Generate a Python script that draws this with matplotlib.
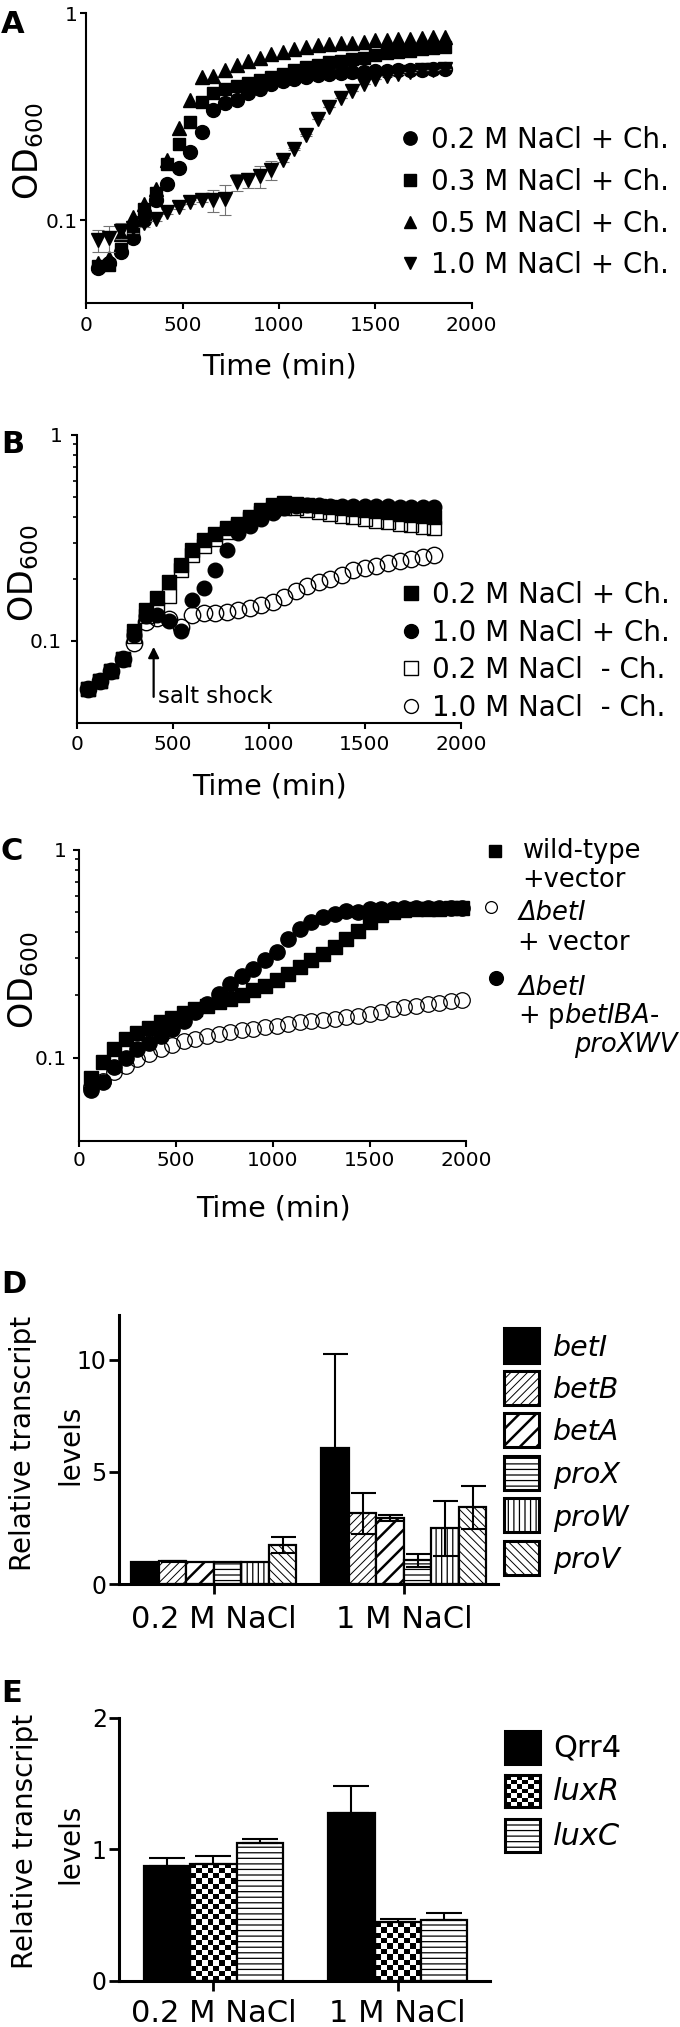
import numpy as np
import matplotlib
matplotlib.use('Agg')
import matplotlib.pyplot as plt
from matplotlib.patches import Rectangle
from matplotlib.lines import Line2D
from matplotlib.ticker import FixedLocator, NullLocator, NullFormatter
from matplotlib.transforms import blended_transform_factory

# ---------------- data ----------------
TIME_AB = [60, 120, 180, 240, 300, 360, 420, 480, 540, 600, 660, 720, 780, 840, 900, 960,
           1020, 1080, 1140, 1200, 1260, 1320, 1380, 1440, 1500, 1560, 1620, 1680, 1740, 1800, 1860]
TIME_C = [60, 120, 180, 240, 300, 360, 420, 480, 540, 600, 660, 720, 780, 840, 900, 960,
          1020, 1080, 1140, 1200, 1260, 1320, 1380, 1440, 1500, 1560, 1620, 1680, 1740, 1800,
          1860, 1920, 1980]

# Panel A
A_LABELS = ['0.2 M NaCl + Ch.', '0.3 M NaCl + Ch.', '0.5 M NaCl + Ch.', '1.0 M NaCl + Ch.']
A_02 = [0.059, 0.062, 0.070, 0.082, 0.100, 0.125, 0.149, 0.178, 0.214, 0.267, 0.340, 0.370,
        0.380, 0.410, 0.430, 0.455, 0.471, 0.482, 0.492, 0.503, 0.508, 0.514, 0.518, 0.522,
        0.526, 0.528, 0.530, 0.532, 0.535, 0.537, 0.540]
A_03 = [0.060, 0.061, 0.073, 0.090, 0.114, 0.135, 0.188, 0.235, 0.300, 0.374, 0.410, 0.430,
        0.445, 0.460, 0.475, 0.490, 0.510, 0.530, 0.550, 0.565, 0.580, 0.590, 0.600, 0.610,
        0.630, 0.640, 0.650, 0.660, 0.670, 0.680, 0.690]
A_05 = [0.062, 0.066, 0.086, 0.104, 0.120, 0.142, 0.195, 0.278, 0.381, 0.494, 0.500, 0.530,
        0.560, 0.590, 0.610, 0.635, 0.650, 0.670, 0.685, 0.700, 0.710, 0.715, 0.720, 0.730,
        0.740, 0.745, 0.750, 0.755, 0.760, 0.765, 0.770]
A_10 = [0.080, 0.082, 0.089, 0.092, 0.097, 0.102, 0.110, 0.116, 0.123, 0.125, 0.125, 0.127,
        0.153, 0.156, 0.163, 0.175, 0.195, 0.221, 0.258, 0.310, 0.353, 0.390, 0.420, 0.458,
        0.480, 0.500, 0.510, 0.520, 0.530, 0.535, 0.540]
A_10_ERR = [0.010, 0.012, 0.008, 0.005, 0.004, 0.003, 0.003, 0.003, 0.003, 0.003, 0.015, 0.021,
            0.015, 0.013, 0.020, 0.018, 0.004, 0.003, 0.003, 0.0, 0.0, 0.0, 0.0, 0.0,
            0.0, 0.0, 0.0, 0.0, 0.0, 0.0, 0.0]

# Panel B
B_LABELS = ['0.2 M NaCl + Ch.', '1.0 M NaCl + Ch.', '0.2 M NaCl  - Ch.', '1.0 M NaCl  - Ch.']
B_02P = [0.058, 0.0635, 0.071, 0.082, 0.111, 0.141, 0.161, 0.194, 0.234, 0.277, 0.309, 0.330,
         0.352, 0.370, 0.400, 0.432, 0.455, 0.465, 0.462, 0.458, 0.452, 0.447, 0.442, 0.437,
         0.432, 0.427, 0.421, 0.415, 0.409, 0.403, 0.398]
B_10P = [0.058, 0.0635, 0.071, 0.082, 0.107, 0.132, 0.133, 0.125, 0.112, 0.158, 0.180, 0.220,
         0.277, 0.333, 0.360, 0.390, 0.420, 0.440, 0.452, 0.455, 0.455, 0.454, 0.453, 0.452,
         0.451, 0.450, 0.450, 0.449, 0.449, 0.448, 0.448]
B_02M = [0.058, 0.0635, 0.071, 0.082, 0.106, 0.132, 0.142, 0.166, 0.220, 0.262, 0.290, 0.312,
         0.338, 0.360, 0.390, 0.418, 0.438, 0.443, 0.440, 0.432, 0.424, 0.415, 0.406, 0.398,
         0.390, 0.383, 0.376, 0.370, 0.364, 0.358, 0.353]
B_10M = [0.058, 0.0635, 0.071, 0.082, 0.098, 0.124, 0.129, 0.127, 0.117, 0.134, 0.136, 0.136,
         0.138, 0.141, 0.145, 0.149, 0.155, 0.164, 0.175, 0.184, 0.194, 0.200, 0.209, 0.220,
         0.226, 0.232, 0.238, 0.244, 0.250, 0.255, 0.260]

# Panel C
C_WT = [0.080, 0.095, 0.110, 0.123, 0.131, 0.139, 0.148, 0.155, 0.163, 0.171, 0.178, 0.185,
        0.192, 0.201, 0.212, 0.222, 0.235, 0.253, 0.272, 0.294, 0.316, 0.340, 0.370, 0.407,
        0.450, 0.485, 0.500, 0.510, 0.515, 0.518, 0.520, 0.522, 0.525]
C_COMP = [0.070, 0.076, 0.090, 0.100, 0.110, 0.118, 0.127, 0.138, 0.150, 0.165, 0.181, 0.202,
          0.226, 0.248, 0.267, 0.294, 0.322, 0.370, 0.413, 0.450, 0.472, 0.490, 0.508, 0.503,
          0.515, 0.518, 0.520, 0.522, 0.523, 0.524, 0.525, 0.525, 0.526]
C_DEL = [0.072, 0.077, 0.085, 0.091, 0.098, 0.104, 0.110, 0.115, 0.120, 0.123, 0.127, 0.130,
         0.133, 0.136, 0.137, 0.140, 0.142, 0.145, 0.148, 0.150, 0.152, 0.153, 0.156, 0.159,
         0.162, 0.166, 0.171, 0.175, 0.178, 0.181, 0.184, 0.187, 0.190]

# Panel D
D_GROUPS = ['0.2 M NaCl', '1 M NaCl']
D_GENES = ['betI', 'betB', 'betA', 'proX', 'proW', 'proV']
D_02 = [1.00, 1.02, 0.97, 0.98, 0.98, 1.75]
D_02_ERR = [0.0, 0.02, 0.0, 0.0, 0.0, 0.36]
D_10 = [6.08, 3.15, 2.95, 1.05, 2.48, 3.42]
D_10_ERR = [4.2, 0.93, 0.15, 0.28, 1.22, 0.97]

# Panel E
E_GROUPS = ['0.2 M NaCl', '1 M NaCl']
E_GENES = ['Qrr4', 'luxR', 'luxC']
E_02 = [0.87, 0.89, 1.05]
E_02_ERR = [0.065, 0.06, 0.03]
E_10 = [1.275, 0.445, 0.465]
E_10_ERR = [0.205, 0.023, 0.055]

LOG_YTICKS = [0.1, 1]
LOG_YTICKLABELS = ['0.1', '1']
LOG_MINOR = [0.2, 0.3, 0.4, 0.5, 0.6, 0.7, 0.8, 0.9]
TIME_TICKS = [0, 500, 1000, 1500, 2000]

# ---------------- figure ----------------
W, H = 680, 2027
plt.rcParams.update({
    'font.family': ['DejaVu Sans'],
    'mathtext.fontset': 'dejavusans',
    'mathtext.default': 'regular',
    'hatch.linewidth': 0.8,
})
fig = plt.figure(figsize=(W / 100, H / 100), dpi=100)


def rect(l, t, r, b):
    return [l / W, 1 - b / H, (r - l) / W, (b - t) / H]


def fx(x):
    return x / W


def fy(y):
    return 1 - y / H


def ftext(x, y, s, **kw):
    return fig.text(fx(x), fy(y), s, **kw)


def fmarker(x, y, **kw):
    fig.add_artist(Line2D([fx(x)], [fy(y)], transform=fig.transFigure, linestyle='none', **kw))


def log_axes(l, t, r, b, minor, ypad, xpad):
    ax = fig.add_axes(rect(l, t, r, b))
    ax.set_yscale('log')
    ax.set_xlim(0, 2000)
    ax.set_ylim(0.04, 1)
    ax.patch.set_visible(False)
    for s in ('top', 'right'):
        ax.spines[s].set_visible(False)
    for s in ('left', 'bottom'):
        ax.spines[s].set_linewidth(1.5)
    ax.yaxis.set_major_locator(FixedLocator(LOG_YTICKS))
    ax.set_yticklabels(LOG_YTICKLABELS)
    if minor:
        ax.yaxis.set_minor_locator(FixedLocator(LOG_MINOR))
    else:
        ax.yaxis.set_minor_locator(NullLocator())
    ax.yaxis.set_minor_formatter(NullFormatter())
    ax.set_xticks(TIME_TICKS)
    ax.xaxis.set_minor_locator(NullLocator())
    ax.tick_params(which='major', direction='out', length=4, width=1.5, labelsize=14.5)
    ax.tick_params(which='minor', direction='out', length=3, width=1.2)
    ax.tick_params(axis='y', pad=ypad)
    ax.tick_params(axis='x', pad=xpad)
    return ax


# ---------------- Panel A ----------------
axA = log_axes(86.3, 13.3, 471.7, 302.7, False, 2.5, 5.5)
axA.plot(TIME_AB, A_02, 'o', color='k', ms=10, clip_on=False, zorder=3)
axA.plot(TIME_AB, A_03, 's', color='k', ms=9, clip_on=False, zorder=3)
axA.plot(TIME_AB, A_05, '^', color='k', ms=10, clip_on=False, zorder=3)
axA.errorbar(TIME_AB, A_10, yerr=A_10_ERR, fmt='v', color='k', ms=9.5, ecolor='0.45',
             elinewidth=0.8, capsize=4, capthick=0.8, clip_on=False, zorder=3)
a_markers = ['o', 's', '^', 'v']
a_ms = [9.6, 8.4, 8.6, 8.6]
a_rows = [138.3, 180.0, 221.7, 263.3]
for m, s, yrow, lab in zip(a_markers, a_ms, a_rows, A_LABELS):
    fmarker(410, yrow, marker=m, color='k', ms=s)
    ftext(430.7, yrow + 10, lab, fontsize=20, va='baseline', ha='left')
ftext(1, 33, 'A', fontsize=22, fontweight='bold', va='baseline', ha='left')
ftext(11, 151, r'OD$_{600}$', fontsize=24, rotation=90, ha='left', va='center')
ftext(279, 375, 'Time (min)', fontsize=20.5, ha='center', va='baseline')

# ---------------- Panel B ----------------
axB = log_axes(76.8, 435, 461, 722.7, True, 6.5, 4.8)
axB.plot(TIME_AB, B_02M, 's', mfc='none', mec='k', mew=1.0, ms=10, clip_on=False, zorder=2)
axB.plot(TIME_AB, B_02P, 's', color='k', ms=10, clip_on=False, zorder=3)
axB.plot(TIME_AB, B_10M, 'o', mfc='none', mec='k', mew=1.0, ms=11.8, clip_on=False, zorder=3)
axB.plot(TIME_AB, B_10P, 'o', color='k', ms=10.5, clip_on=False, zorder=4)
axB.annotate('', xy=(400, 0.0935), xytext=(400, 0.0534),
             arrowprops=dict(arrowstyle='-|>', lw=1.6, color='k', mutation_scale=16,
                             shrinkA=0, shrinkB=0))
axB.text(424, 0.0497, 'salt shock', fontsize=16.5, va='baseline', ha='left')
b_styles = [dict(marker='s', color='k', ms=9.5),
            dict(marker='o', color='k', ms=10),
            dict(marker='s', mfc='none', mec='k', mew=1.0, ms=9.5),
            dict(marker='o', mfc='none', mec='k', mew=1.0, ms=10)]
b_rows = [593.3, 630.7, 668.3, 706.0]
for st, yrow, lab in zip(b_styles, b_rows, B_LABELS):
    fmarker(411, yrow, **st)
    ftext(431.5, yrow + 10, lab, fontsize=20, va='baseline', ha='left')
ftext(1, 453, 'B', fontsize=22, fontweight='bold', va='baseline', ha='left')
ftext(6.5, 573, r'OD$_{600}$', fontsize=24, rotation=90, ha='left', va='center')
ftext(269, 794, 'Time (min)', fontsize=20.5, ha='center', va='baseline')

# ---------------- Panel C ----------------
axC = log_axes(79.4, 849.5, 466.2, 1140.5, True, 5.0, 3.6)
axC.plot(TIME_C, C_DEL, 'o', mfc='none', mec='k', mew=0.9, ms=11.2, clip_on=False, zorder=2)
axC.plot(TIME_C, C_WT, 's', color='k', ms=9.6, clip_on=False, zorder=3)
axC.plot(TIME_C, C_COMP, 'o', color='k', ms=11, clip_on=False, zorder=4)
fmarker(495, 850.5, marker='s', color='k', ms=8.3)
ftext(523.3, 858, 'wild-type', fontsize=18.5, va='baseline', ha='left')
ftext(522.7, 886.7, '+vector', fontsize=18.5, va='baseline', ha='left')
fmarker(490.8, 906.8, marker='o', mfc='none', mec='k', mew=0.9, ms=8.5)
ftext(518.3, 920, 'Δ' + 'betI', fontsize=18.5, fontstyle='italic', va='baseline', ha='left')
ftext(518.3, 950, '+ vector', fontsize=18.5, va='baseline', ha='left')
fmarker(496, 977.5, marker='o', color='k', ms=9.9)
ftext(518.3, 995, 'Δ' + 'betI', fontsize=18.5, fontstyle='italic', va='baseline', ha='left')
ftext(518.3, 1023.3, r'+ p$\it{betIBA}$-', fontsize=18.5, va='baseline', ha='left')
ftext(678, 1051.7, 'proXWV', fontsize=18.5, fontstyle='italic', va='baseline', ha='right')
ftext(1, 860, 'C', fontsize=22, fontweight='bold', va='baseline', ha='left')
ftext(6.5, 980, r'OD$_{600}$', fontsize=24, rotation=90, ha='left', va='center')
ftext(273, 1217, 'Time (min)', fontsize=20.5, ha='center', va='baseline')


# ---------------- bar panel helpers ----------------
def bar_axes(l, t, r, b, xlim, ylim, yticks):
    ax = fig.add_axes(rect(l, t, r, b))
    ax.set_xlim(*xlim)
    ax.set_ylim(*ylim)
    ax.patch.set_visible(False)
    for s in ('top', 'right'):
        ax.spines[s].set_visible(False)
    for s in ('left', 'bottom'):
        ax.spines[s].set_linewidth(2.2)
    ax.set_yticks(yticks)
    ax.set_xticks([0, 1])
    ax.set_xticklabels(['', ''])
    ax.tick_params(direction='out', length=7, width=2, labelsize=17, pad=2)
    return ax


def set_hlw(p, lw):
    if hasattr(p, 'set_hatch_linewidth'):
        p.set_hatch_linewidth(lw)


D_STYLES = [dict(facecolor='k', hatch=None, hlw=0.8),
            dict(facecolor='white', hatch='////', hlw=0.7),
            dict(facecolor='white', hatch='//', hlw=1.8),
            dict(facecolor='white', hatch='---', hlw=0.9),
            dict(facecolor='white', hatch='|||', hlw=0.9),
            dict(facecolor='white', hatch='\\\\\\\\', hlw=0.7)]

# ---------------- Panel D ----------------
axD = bar_axes(119.3, 1315, 497.8, 1584, (-0.498, 1.494), (0, 12), [0, 5, 10])
wD = 0.1447
for gi, (vals, errs) in enumerate([(D_02, D_02_ERR), (D_10, D_10_ERR)]):
    for i, (v, e, st) in enumerate(zip(vals, errs, D_STYLES)):
        xpos = gi + (i - 2.5) * wD
        with plt.rc_context({'hatch.linewidth': st['hlw']}):
            bars = axD.bar(xpos, v, width=wD, color=st['facecolor'], edgecolor='k',
                           linewidth=1.6, hatch=st['hatch'], zorder=2)
        for p in bars:
            set_hlw(p, st['hlw'])
        if e > 0:
            axD.errorbar(xpos, v, yerr=e, fmt='none', ecolor='k', elinewidth=1.5,
                         capsize=9, capthick=1.5, zorder=3)
trD = blended_transform_factory(axD.transData, fig.transFigure)
for gi, g in enumerate(D_GROUPS):
    axD.text(gi, fy(1628), g, transform=trD, fontsize=22, ha='center', va='baseline')
d_rows = [1345.5, 1388, 1430, 1472.8, 1515, 1557.8]
for yrow, st, lab in zip(d_rows, D_STYLES, D_GENES):
    with plt.rc_context({'hatch.linewidth': st['hlw']}):
        p = Rectangle((fx(504.3), fy(yrow + 17)), 34.7 / W, 34.3 / H, transform=fig.transFigure,
                      facecolor=st['facecolor'], edgecolor='k', linewidth=2.2, hatch=st['hatch'])
    set_hlw(p, st['hlw'])
    fig.add_artist(p)
    ftext(553.3, yrow + 10.5, lab, fontsize=20.5, fontstyle='italic', va='baseline', ha='left')
ftext(1, 1293, 'D', fontsize=22, fontweight='bold', va='baseline', ha='left')
ftext(8.7, 1443, 'Relative transcript', fontsize=20, rotation=90, ha='left', va='center')
ftext(56, 1445, 'levels', fontsize=20, rotation=90, ha='left', va='center')


# ---------------- Panel E ----------------
def checker(ax, x0, x1, y0, y1, cell_px=6.0, zorder=1.5):
    p0 = ax.transData.transform((x0, y0))
    p1 = ax.transData.transform((x1, y1))
    nx = max(1, int(round(abs(p1[0] - p0[0]) / cell_px)))
    ny = max(1, int(round(abs(p1[1] - p0[1]) / (cell_px * 0.85))))
    arr = (np.add.outer(np.arange(ny), np.arange(nx)) % 2).astype(float)
    ax.imshow(arr, extent=(x0, x1, y0, y1), cmap='gray', vmin=0, vmax=1,
              interpolation='nearest', aspect='auto', origin='upper', zorder=zorder)


axE = bar_axes(119.3, 1717.7, 490, 1981, (-0.51, 1.50), (0, 2), [0, 1, 2])
wE = 0.252
E_STYLES = [dict(facecolor='k', hatch=None),
            dict(facecolor='none', hatch=None, checker=True),
            dict(facecolor='white', hatch='---')]
for gi, (vals, errs) in enumerate([(E_02, E_02_ERR), (E_10, E_10_ERR)]):
    for i, (v, e, st) in enumerate(zip(vals, errs, E_STYLES)):
        xpos = gi + (i - 1) * wE
        if st.get('checker'):
            checker(axE, xpos - wE / 2, xpos + wE / 2, 0, v)
        with plt.rc_context({'hatch.linewidth': 0.9}):
            axE.bar(xpos, v, width=wE, color=st['facecolor'], edgecolor='k', linewidth=1.6,
                    hatch=st['hatch'], zorder=2)
        axE.errorbar(xpos, v, yerr=[[0], [e]], fmt='none', ecolor='k', elinewidth=1.5,
                     capsize=13, capthick=1.5, zorder=3)
axE.set_xlim(-0.51, 1.50)
axE.set_ylim(0, 2)
trE = blended_transform_factory(axE.transData, fig.transFigure)
for gi, g in enumerate(E_GROUPS):
    axE.text(gi, fy(2022), g, transform=trE, fontsize=22, ha='center', va='baseline')

e_boxes = [(1731, 1764), (1775, 1807), (1819, 1852)]
for (t, b), st, lab in zip(e_boxes, E_STYLES, E_GENES):
    if st.get('checker'):
        lax = fig.add_axes(rect(505, t, 540, b))
        lax.set_xlim(0, 1)
        lax.set_ylim(0, 1)
        checker(lax, 0, 1, 0, 1, cell_px=5.5)
        lax.set_xlim(0, 1)
        lax.set_ylim(0, 1)
        lax.set_xticks([])
        lax.set_yticks([])
        for s in lax.spines.values():
            s.set_linewidth(2.2)
    else:
        with plt.rc_context({'hatch.linewidth': 0.9}):
            p = Rectangle((fx(505), fy(b)), 35 / W, (b - t) / H, transform=fig.transFigure,
                          facecolor=st['facecolor'], edgecolor='k', linewidth=2.2, hatch=st['hatch'])
        fig.add_artist(p)
    style = 'normal' if lab == 'Qrr4' else 'italic'
    ftext(553.3, (t + b) / 2 + 9.5, lab, fontsize=22, fontstyle=style, va='baseline', ha='left')
ftext(1, 1702, 'E', fontsize=22, fontweight='bold', va='baseline', ha='left')
ftext(10.8, 1841.5, 'Relative transcript', fontsize=20, rotation=90, ha='left', va='center')
ftext(56.4, 1844, 'levels', fontsize=20, rotation=90, ha='left', va='center')

fig.savefig('out.png', dpi=100)
